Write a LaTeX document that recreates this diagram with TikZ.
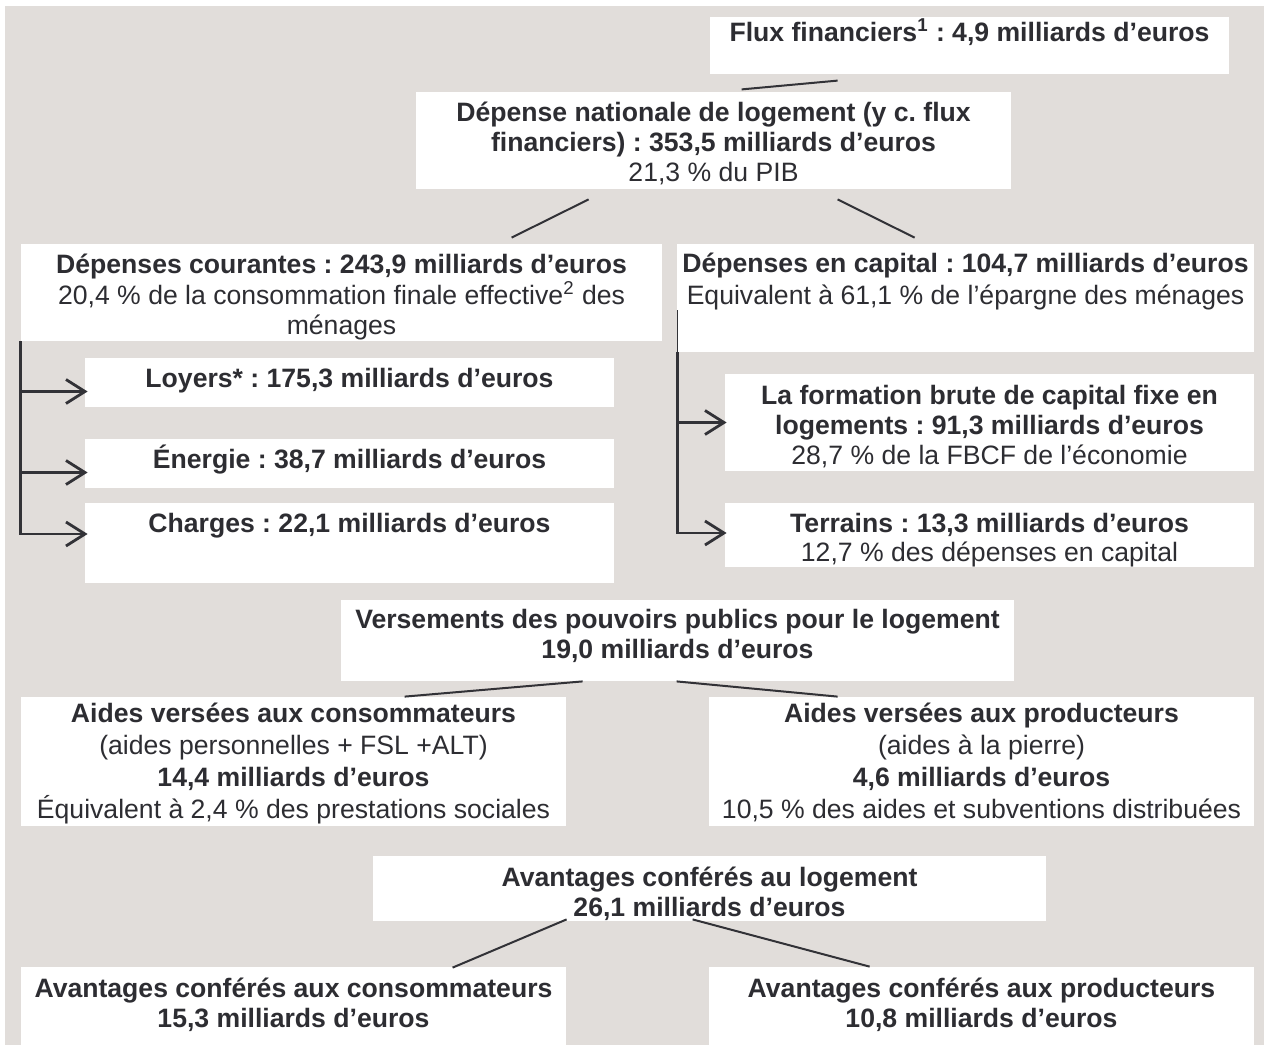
\documentclass[tikz,border=0pt]{standalone}
\usepackage{fontspec}
\setmainfont{Liberation Sans}
\usetikzlibrary{arrows.meta,positioning,calc,fit}
\frenchspacing

\definecolor{fondgris}{RGB}{225,221,218}
\definecolor{trait}{RGB}{50,50,55}
\definecolor{texte}{RGB}{45,45,50}

\tikzset{
  boite/.style={inner sep=0pt, fill=white, draw=none},
  lien/.style={draw=trait, line width=1pt},
  accolade/.style={draw=trait, line width=1.4pt},
  fleche/.style={accolade, -{Straight Barb[length=9.5pt,width=12pt]}},
  % base = ligne du bas du texte
  txt/.style={text=texte, align=center, inner sep=0pt, anchor=base,
    font=\fontsize{13.3}{15}\selectfont},
}

\begin{document}
\begin{tikzpicture}[x=0.5pt, y=-0.5pt]
    \useasboundingbox (0,0) rectangle (1264,1045);
    % Fond
    \fill[fondgris] (5,6) rectangle (1264,1045);

    % Boites
    \node[boite, fit={(710,17) (1229,74)}] (flux) {};
    \node[boite, fit={(416,92) (1011,189)}] (dnl) {};
    \node[boite, fit={(21,244) (662,341)}] (dc) {};
    \node[boite, fit={(677,244) (1254,352)}] (dec) {};
    \node[boite, fit={(85,358) (614,407)}] (loyers) {};
    \node[boite, fit={(85,439) (614,488)}] (energie) {};
    \node[boite, fit={(85,503) (614,583)}] (charges) {};
    \node[boite, fit={(725,374) (1254,471)}] (fbcf) {};
    \node[boite, fit={(725,503) (1254,567)}] (terrains) {};
    \node[boite, fit={(341,600) (1014,681)}] (vers) {};
    \node[boite, fit={(21,697) (566,826)}] (aidc) {};
    \node[boite, fit={(709,697) (1254,826)}] (aidp) {};
    \node[boite, fit={(373,856) (1046,921)}] (avl) {};
    \node[boite, fit={(21,967) (566,1045)}] (avc) {};
    \node[boite, fit={(709,967) (1254,1045)}] (avp) {};

    % Textes
    \node[txt] (fluxT) at (969.5,41.5) {\textbf{Flux financiers\textsuperscript{1} : 4,9 milliards d’euros}};
    \node[txt] (dnlT) at (713.5,181) {\textbf{Dépense nationale de logement (y c. flux}\\
      \textbf{financiers) : 353,5 milliards d’euros}\\ 21,3 \% du PIB};
    \node[txt] (dcT) at (341.5,334.5) {\textbf{Dépenses courantes : 243,9 milliards d’euros}\\[0.5pt]
      20,4 \% de la consommation finale effective\textsuperscript{2} des\\ ménages};
    \node[txt] (decT) at (965.5,304.5) {\textbf{Dépenses en capital : 104,7 milliards d’euros}\\[1pt]
      Equivalent à 61,1 \% de l’épargne des ménages};
    \node[txt] (loyersT) at (349.5,387.5) {\textbf{Loyers* : 175,3 milliards d’euros}};
    \node[txt] (energieT) at (349.5,468.5) {\textbf{Énergie : 38,7 milliards d’euros}};
    \node[txt] (chargesT) at (349.5,532.5) {\textbf{Charges : 22,1 milliards d’euros}};
    \node[txt] (fbcfT) at (989.5,464.5) {\textbf{La formation brute de capital fixe en}\\
      \textbf{logements : 91,3 milliards d’euros}\\ 28,7 \% de la FBCF de l’économie};
    \node[txt] (terrainsT) at (989.5,561.5) {\textbf{Terrains : 13,3 milliards d’euros}\\[-0.5pt]
      12,7 \% des dépenses en capital};
    \node[txt] (versT) at (677.5,658.5) {\textbf{Versements des pouvoirs publics pour le logement}\\
      \textbf{19,0 milliards d’euros}};
    \node[txt] (aidcT) at (293.5,818.5) {\textbf{Aides versées aux consommateurs}\\[1pt]
      (aides personnelles + FSL +ALT)\\[1pt] \textbf{14,4 milliards d’euros}\\[1pt]
      Équivalent à 2,4 \% des prestations sociales};
    \node[txt] (aidpT) at (981.5,818.5) {\textbf{Aides versées aux producteurs}\\[1pt]
      (aides à la pierre)\\[1pt] \textbf{4,6 milliards d’euros}\\[1pt]
      10,5 \% des aides et subventions distribuées};
    \node[txt] (avlT) at (709.5,916) {\textbf{Avantages conférés au logement}\\
      \textbf{26,1 milliards d’euros}};
    \node[txt] (avcT) at (293.5,1027.5) {\textbf{Avantages conférés aux consommateurs}\\
      \textbf{15,3 milliards d’euros}};
    \node[txt] (avpT) at (981.5,1027.5) {\textbf{Avantages conférés aux producteurs}\\
      \textbf{10,8 milliards d’euros}};

    % Liens
    \draw[lien] ($(flux.south west)+(32,15)$) -- ($(dnl.north west)+(422,-11)$);
    \draw[lien] ($(dnl.south west)+(173,10)$) -- ($(dc.north west)+(491,-6)$);
    \draw[lien] ($(dnl.south west)+(422,10)$) -- ($(dec.north west)+(238,-6)$);

    % Depenses courantes -> postes
    \coordinate (loyersA) at ($(loyers.west)+(3,9)$);
    \coordinate (energieA) at ($(energie.west)+(3,9)$);
    \coordinate (chargesA) at ($(charges.west)+(3,-9)$);
    \draw[fleche] (dc.south west) |- (chargesA);
    \draw[fleche] (dc.south west |- loyersA) -- (loyersA);
    \draw[fleche] (dc.south west |- energieA) -- (energieA);

    % Depenses en capital -> postes
    \coordinate (decB) at ($(dec.south west)+(1,0)$);
    \coordinate (fbcfA) at ($(fbcf.west)+(2,0)$);
    \coordinate (terrainsA) at ($(terrains.west)+(2,-2)$);
    \draw[trait, line width=0.6pt] ($(dec.west)+(1,12)$) -- (decB);
    \draw[fleche] (decB) |- (terrainsA);
    \draw[fleche] (decB |- fbcfA) -- (fbcfA);

    % Versements et avantages
    \draw[lien] ($(vers.south west)+(242,0)$) -- ($(aidc.north west)+(384,0)$);
    \draw[lien] ($(vers.south west)+(336,0)$) -- ($(aidp.north west)+(129,0)$);
    \draw[lien] ($(avl.south west)+(194,-2)$) -- ($(avc.north west)+(432,1)$);
    \draw[lien] ($(avl.south west)+(320,-2)$) -- ($(avp.north west)+(161,0)$);
\end{tikzpicture}
\end{document}
